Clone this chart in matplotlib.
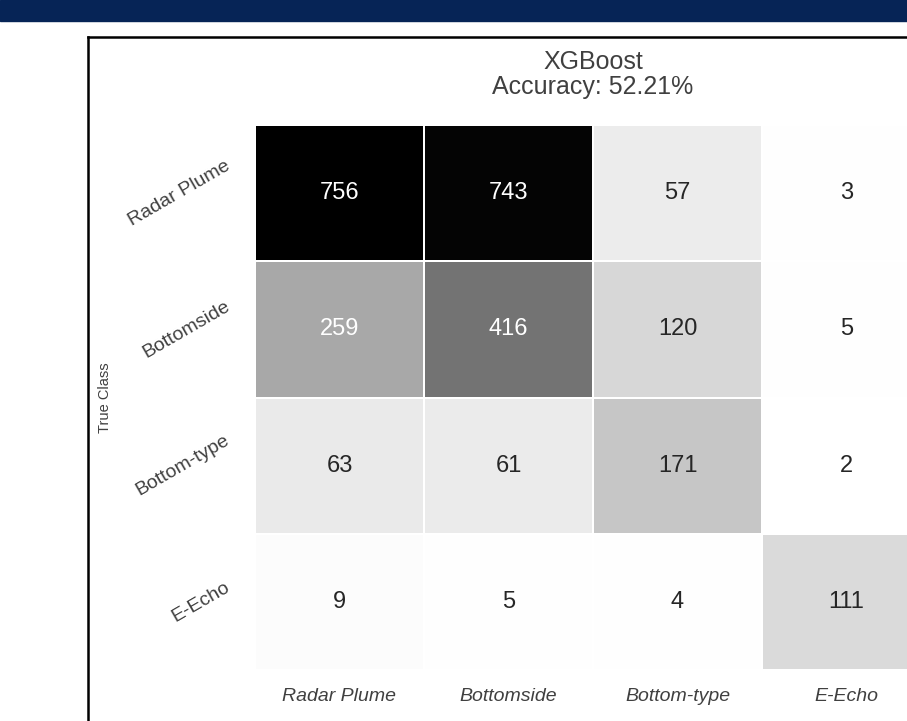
import numpy as np
import matplotlib
matplotlib.use("Agg")
import matplotlib.pyplot as plt
from matplotlib.lines import Line2D
import seaborn as sns

plt.rcParams.update({
    "font.family": ["Liberation Sans", "DejaVu Sans"],
    "text.color": ".25",
    "axes.labelcolor": ".25",
    "xtick.color": ".25",
    "ytick.color": ".25",
})

# Class names (rows = true class, columns = predicted class)
CLASSES = ["Radar Plume", "Bottomside", "Bottom-type", "E-Echo"]

# Confusion matrix counts, one list per true class
ROW_RADAR_PLUME = [756, 743, 57, 3]
ROW_BOTTOMSIDE = [259, 416, 120, 5]
ROW_BOTTOM_TYPE = [63, 61, 171, 2]
ROW_E_ECHO = [9, 5, 4, 111]

MODEL_NAME = "XGBoost"
ACCURACY = 52.21

W, H = 907, 721


def main():
    cm = np.array([ROW_RADAR_PLUME, ROW_BOTTOMSIDE, ROW_BOTTOM_TYPE, ROW_E_ECHO])

    fig = plt.figure(figsize=(W / 100, H / 100), dpi=100)

    # dark banner across the top
    fig.patches.append(plt.Rectangle((0, 1 - 21 / H), 1, 21 / H,
                                     transform=fig.transFigure,
                                     color="#062456", zorder=0))
    # black frame around the chart (runs off the right/bottom edge)
    fx, fy = 88 / W, 1 - 37 / H
    fig.lines.append(Line2D([fx, fx], [-0.1, fy], transform=fig.transFigure,
                            color="black", lw=1.8))
    fig.lines.append(Line2D([fx, 1.1], [fy, fy], transform=fig.transFigure,
                            color="black", lw=1.8))

    left, right = 255 / W, 931 / W
    top, bottom = 1 - 125 / H, 1 - 670 / H
    ax = fig.add_axes([left, bottom, right - left, top - bottom])

    sns.heatmap(cm, ax=ax, cmap="gray_r", vmin=0, vmax=cm.max(),
                annot=True, fmt="d", annot_kws={"fontsize": 17},
                linewidths=1.2, linecolor="white", cbar=False,
                xticklabels=CLASSES, yticklabels=CLASSES)

    ax.set_title(f"{MODEL_NAME}\nAccuracy: {ACCURACY:.2f}%", fontsize=18,
                 pad=22, color=".25", linespacing=1.05)
    ax.set_ylabel("True Class", fontsize=10.5)
    ax.yaxis.set_label_coords((112 - 255) / (931 - 255), 0.5)
    ax.tick_params(axis="both", length=0)
    ax.tick_params(axis="x", pad=13)
    ax.tick_params(axis="y", pad=16)
    for lab in ax.get_xticklabels():
        lab.set_fontsize(14)
        lab.set_fontstyle("italic")
        lab.set_rotation(0)
    for lab in ax.get_yticklabels():
        lab.set_fontsize(14)
        lab.set_rotation(30)

    fig.savefig("out.png", dpi=100)
    plt.close(fig)


if __name__ == "__main__":
    main()
